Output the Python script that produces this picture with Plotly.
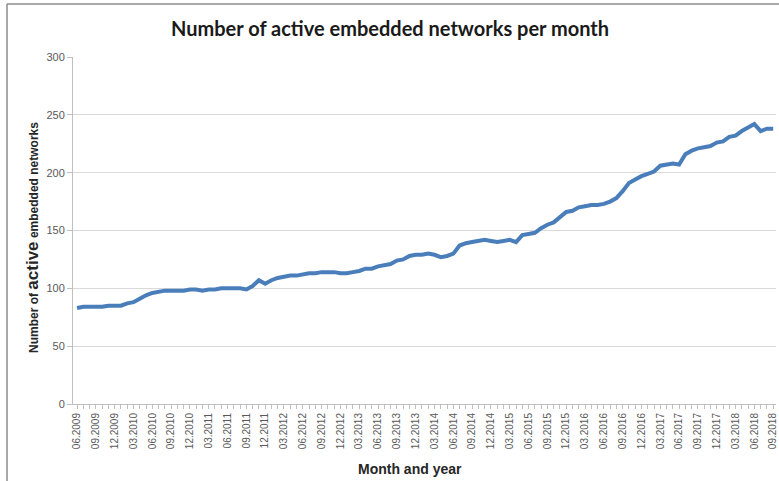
import plotly.graph_objects as go

# Monthly values, 06.2009 .. 09.2018 (112 months)
values = [
    83, 84, 84, 84, 84, 85, 85, 85, 87, 88, 91, 94,
    96, 97, 98, 98, 98, 98, 99, 99, 98, 99, 99, 100,
    100, 100, 100, 99, 102, 107, 104, 107, 109, 110, 111, 111,
    112, 113, 113, 114, 114, 114, 113, 113, 114, 115, 117, 117,
    119, 120, 121, 124, 125, 128, 129, 129, 130, 129, 127, 128,
    130, 137, 139, 140, 141, 142, 141, 140, 141, 142, 140, 146,
    147, 148, 152, 155, 157, 162, 166, 167, 170, 171, 172, 172,
    173, 175, 178, 184, 191, 194, 197, 199, 201, 206, 207, 208,
    207, 216, 219, 221, 222, 223, 226, 227, 231, 232, 236, 239,
    242, 236, 238, 238,
]
month_index = list(range(len(values)))

tick_labels = [
    "06.2009", "09.2009", "12.2009", "03.2010", "06.2010", "09.2010", "12.2010",
    "03.2011", "06.2011", "09.2011", "12.2011", "03.2012", "06.2012", "09.2012",
    "12.2012", "03.2013", "06.2013", "09.2013", "12.2013", "03.2014", "06.2014",
    "09.2014", "12.2014", "03.2015", "06.2015", "09.2015", "12.2015", "03.2016",
    "06.2016", "09.2016", "12.2016", "03.2017", "06.2017", "09.2017", "12.2017",
    "03.2018", "06.2018", "09.2018",
]
tick_positions = month_index[::3]

W, H = 779, 481
ML, MR, MT, MB = 73, 3, 57, 77

fig = go.Figure()
fig.add_trace(go.Scatter(
    x=month_index, y=values, mode="lines",
    line=dict(color="#4a7ebb", width=4),
    showlegend=False, hoverinfo="y", cliponaxis=False,
))

pw = W - ML - MR
ph = H - MT - MB
def px_x(p):
    return (p - ML) / pw
def px_y(p):
    return 1 - (p - MT) / ph

frame = dict(color="#8c8c8c", width=1.5)
fig.add_shape(type="line", xref="paper", yref="paper",
              x0=px_x(7), x1=px_x(779), y0=px_y(4), y1=px_y(4), line=frame)
fig.add_shape(type="line", xref="paper", yref="paper",
              x0=px_x(7), x1=px_x(7), y0=px_y(4), y1=px_y(481), line=frame)

fig.add_annotation(
    xref="paper", yref="paper", x=px_x(390), y=px_y(28),
    text="<b>Number of active embedded networks per month</b>",
    showarrow=False, xanchor="center", yanchor="middle",
    font=dict(family="Lato", size=20, color="#1a1a1a"),
)
fig.add_annotation(
    xref="paper", yref="paper", x=px_x(410), y=px_y(469),
    text="<b>Month and year</b>",
    showarrow=False, xanchor="center", yanchor="middle",
    font=dict(family="Liberation Sans", size=14, color="#262626"),
)
fig.add_annotation(
    xref="paper", yref="paper", x=px_x(32), y=px_y(238),
    text="<b>Number of <span style='font-size:17px'>active</span> embedded networks</b>",
    showarrow=False, xanchor="center", yanchor="middle", textangle=-90,
    font=dict(family="Liberation Sans", size=12, color="#262626"),
)

fig.update_layout(
    width=W, height=H,
    margin=dict(l=ML, r=MR, t=MT, b=MB, autoexpand=False),
    paper_bgcolor="white", plot_bgcolor="white",
    font=dict(family="Liberation Sans", color="#595959"),
)
fig.update_xaxes(
    range=[-0.64, 111.45], tickmode="array", tickvals=tick_positions,
    ticktext=tick_labels, tickangle=-90, automargin=False,
    ticklabeloverflow="allow",
    tickfont=dict(size=10, color="#595959", family="Liberation Sans"),
    showgrid=False, zeroline=False,
    showline=True, linecolor="#bfbfbf", linewidth=1,
    ticks="outside", ticklen=4, tickcolor="#bfbfbf",
    minor=dict(tickmode="linear", tick0=0, dtick=1, ticks="outside",
               ticklen=4, tickcolor="#bfbfbf", showgrid=False),
)
fig.update_yaxes(
    range=[0, 300], tickmode="linear", tick0=0, dtick=50, automargin=False,
    tickfont=dict(size=11, color="#595959", family="Liberation Sans"),
    showgrid=True, gridcolor="#d9d9d9", gridwidth=1,
    zeroline=False, showline=True, linecolor="#bfbfbf", linewidth=1,
    ticks="outside", ticklen=5, tickcolor="#bfbfbf",
)

fig.write_html(
    "out.html",
    config={"displayModeBar": False},
    post_script="document.body.style.margin='0';document.body.style.overflow='hidden';",
)
